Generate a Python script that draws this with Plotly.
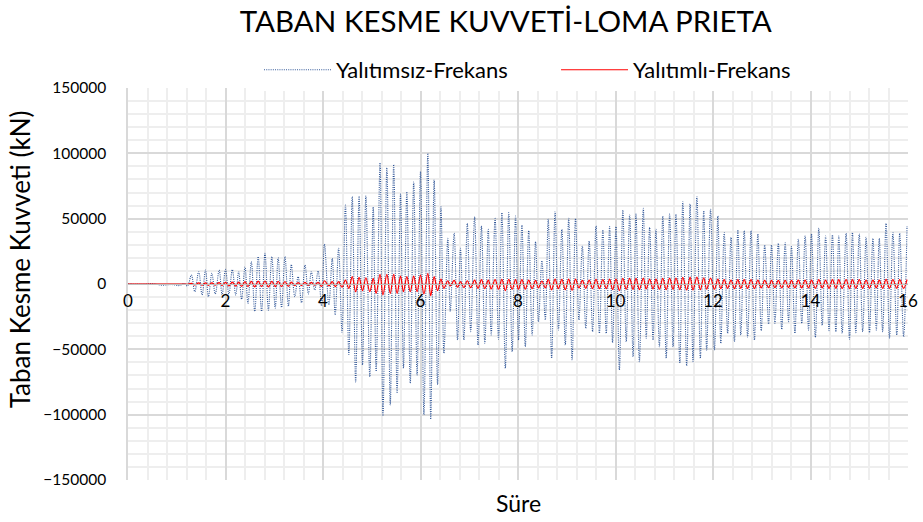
import plotly.graph_objects as go

# peak / trough readings of the two records (time in s, force in kN)
sure = [
    0, 0.3, 0.5, 0.7, 0.9, 1.05, 1.15, 1.22,
    1.30, 1.37, 1.45, 1.52, 1.59, 1.65, 1.72, 1.79, 1.87, 1.93, 2.00,
    2.07, 2.14, 2.21, 2.27, 2.33, 2.40, 2.46, 2.53, 2.60, 2.67, 2.74, 2.81, 2.88, 2.95, 3.02,
    3.08, 3.15, 3.22, 3.29, 3.35, 3.42, 3.49, 3.56, 3.63, 3.70, 3.76, 3.83, 3.90, 3.97,
    4.03, 4.12, 4.19, 4.25, 4.32, 4.39, 4.46, 4.53, 4.60, 4.67, 4.74, 4.81, 4.88, 4.96,
    5.03, 5.09, 5.17, 5.23, 5.31, 5.38, 5.45, 5.52, 5.59, 5.65, 5.72, 5.79, 5.86, 5.93,
    6.00, 6.07, 6.15, 6.21, 6.28, 6.35, 6.42, 6.48, 6.56, 6.61, 6.69, 6.76, 6.82, 6.89, 6.96,
    7.03, 7.11, 7.18, 7.25, 7.32, 7.39, 7.45, 7.53, 7.60, 7.67, 7.74, 7.81, 7.88, 7.95,
    8.01, 8.08, 8.15, 8.22, 8.29, 8.36, 8.42, 8.49, 8.56, 8.62, 8.69, 8.76, 8.83, 8.90, 8.97,
    9.04, 9.11, 9.18, 9.25, 9.32, 9.39, 9.46, 9.53, 9.60, 9.67, 9.74, 9.81, 9.88, 9.94,
    10.01, 10.08, 10.15, 10.22, 10.29, 10.36, 10.42, 10.49, 10.57, 10.63, 10.70, 10.77, 10.83, 10.90, 10.97,
    11.04, 11.11, 11.18, 11.24, 11.32, 11.38, 11.46, 11.53, 11.59, 11.67, 11.74, 11.81, 11.87, 11.95,
    12.03, 12.10, 12.16, 12.23, 12.30, 12.37, 12.44, 12.51, 12.57, 12.64, 12.71, 12.78, 12.85, 12.92, 12.99,
    13.06, 13.14, 13.20, 13.27, 13.34, 13.41, 13.48, 13.55, 13.61, 13.68, 13.75, 13.82, 13.89, 13.96,
    14.02, 14.10, 14.17, 14.24, 14.31, 14.38, 14.45, 14.52, 14.58, 14.65, 14.73, 14.80, 14.86, 14.93, 15.00,
    15.07, 15.14, 15.21, 15.28, 15.35, 15.41, 15.48, 15.55, 15.62, 15.69, 15.77, 15.83, 15.91, 15.98,
]

yalitimsiz = [
    0, -300, 200, -900, -400, -1200, 300, -1500,
    6900, -5900, 9400, -8400, 10700, -9700, 8200, -7600, 10700, -8400, 11200,
    -7600, 11000, -8400, 9400, -11700, 13000, -14800, 17000, -21000, 21000, -21000, 23500, -20000, 21000, -18500,
    20000, -18000, 21000, -17000, 15000, -9700, 5600, -14300, 14500, -7600, 9400, -4600, 10000, -16800,
    30600, -16000, 19600, -23700, 27300, -37000, 60400, -54000, 66800, -75000, 67300, -62000, 67300, -71000,
    59000, -67000, 92800, -101000, 89000, -92500, 91500, -83600, 68800, -64500, 70600, -76000, 78000, -69600,
    86000, -100000, 100000, -103500, 79600, -77000, 59000, -53000, 35000, -21000, 38800, -42800, 27300, -42800, 46400,
    -36500, 51500, -46700, 44400, -45400, 41800, -39000, 50200, -42300, 54600, -64500, 54600, -51800, 52000,
    -42800, 45000, -47900, 40800, -39000, 32400, -28800, 17800, -27500, 49500, -56900, 55300, -35200, 41800, -46700,
    50200, -58000, 50200, -27500, 29000, -33900, 32900, -36500, 44400, -37700, 41300, -37700, 43900, -44900,
    43900, -65800, 56600, -44100, 52800, -55600, 53500, -59400, 57900, -41500, 43300, -42800, 41800, -48000, 52000,
    -56900, 53500, -48000, 53500, -60700, 63000, -62700, 61200, -59400, 66800, -56900, 56100, -50500, 57100,
    -50500, 52000, -45400, 39300, -37700, 35700, -44100, 41300, -39000, 40800, -40800, 40800, -42800, 38300, -35700,
    29800, -30600, 29800, -30100, 31100, -34700, 31600, -28800, 28600, -37700, 34200, -30100, 36700, -35200,
    38300, -40800, 42600, -31600, 36700, -35700, 37500, -36500, 36700, -37700, 38800, -42300, 39300, -37200, 38300,
    -36500, 35700, -37200, 34900, -35200, 34900, -36500, 46400, -41600, 39300, -39000, 38800, -40300, 44400,
]

yalitimli = [
    0, 0, 0, 0, 0, 0, 0, -200,
    500, -700, 800, -900, 900, -1000, 800, -900, 1000, -1100, 1200,
    -1500, 1500, -1600, 1400, -1800, 1800, -2000, 2000, -2200, 2200, -2000, 2300, -2200, 2000, -2000,
    2100, -2000, 1900, -1800, 1500, -1300, 1000, -1200, 1200, -1000, 1200, -900, 1300, -1800,
    2500, -1500, 1800, -2000, 1800, -2500, 3000, -3300, 5600, -5900, 5100, -5100, 4800, -5900,
    4300, -7100, 7400, -8400, 7400, -7100, 7400, -7100, 6100, -5900, 5600, -5900, 6100, -5900,
    6900, -7600, 8200, -8900, 5600, -5100, 3800, -3300, 2500, -1500, 2800, -2500, 1800, -2800, 2500,
    -2800, 3000, -3300, 3300, -3500, 3000, -3800, 3300, -4000, 3500, -5000, 3500, -4000, 3300,
    -4000, 3300, -4000, 3000, -3500, 2800, -3000, 2300, -3000, 3500, -4500, 3800, -3500, 3500, -4300,
    3800, -4800, 3800, -3000, 2800, -3300, 3000, -3500, 3500, -3500, 3300, -3600, 3800, -4300,
    3800, -5000, 4300, -4000, 4300, -4100, 4300, -4300, 4500, -3800, 3800, -3800, 3800, -4000, 4300,
    -4300, 4500, -4100, 4500, -4300, 5000, -4600, 5300, -4600, 5300, -4300, 4800, -4000, 4500,
    -4000, 3800, -3500, 3300, -3300, 3000, -3500, 3300, -3300, 3300, -3300, 3300, -3500, 3000, -3000,
    2800, -2800, 2800, -2800, 2800, -3000, 2800, -2800, 2800, -3000, 3000, -3000, 3000, -3000,
    3000, -3300, 3300, -3000, 3000, -3300, 3300, -3300, 3300, -3300, 3300, -3500, 3300, -3300, 3300,
    -3300, 3000, -3300, 3000, -3000, 3000, -3300, 3500, -3300, 3300, -3300, 3300, -3300, 3300,
]

FONT = 'Lato'

trace1 = go.Scatter(
    x=sure, y=yalitimsiz, name='Yalıtımsız-Frekans', mode='lines',
    line=dict(color='#2F5597', width=1.1, dash='1px,1.2px', shape='spline', smoothing=1),
)
trace2 = go.Scatter(
    x=sure, y=yalitimli, name='Yalıtımlı-Frekans', mode='lines',
    line=dict(color='#FF0000', width=1.2, shape='spline', smoothing=1),
)

layout = go.Layout(
    width=923, height=522,
    margin=dict(l=128, r=15, t=88, b=42),
    paper_bgcolor='white', plot_bgcolor='white',
    font=dict(family=FONT, size=15, color='black'),
    title=dict(text='TABAN KESME KUVVETİ-LOMA PRIETA', x=0.548, xanchor='center',
               y=0.958, yanchor='middle', font=dict(size=29.5, family=FONT)),
    showlegend=True,
    legend=dict(orientation='h', x=0.168, xanchor='left', y=1.046, yanchor='middle',
                font=dict(size=22), itemwidth=67, traceorder='normal', entrywidth=215),
    xaxis=dict(
        range=[0, 16], dtick=2, tick0=0,
        anchor='free', position=0.5, automargin=False,
        showline=True, linecolor='#BFBFBF', linewidth=1,
        showgrid=True, gridcolor='#D9D9D9', gridwidth=1.5,
        minor=dict(dtick=0.4, showgrid=True, gridcolor='#EEEEEE', gridwidth=1.5),
        zeroline=False, ticks='', ticklabelstandoff=2,
        tickfont=dict(size=17),
    ),
    yaxis=dict(
        range=[-150000, 150000], dtick=50000, tick0=0, automargin=False,
        showgrid=True, gridcolor='#D9D9D9', gridwidth=1.5,
        minor=dict(dtick=10000, showgrid=True, gridcolor='#EEEEEE', gridwidth=1.5),
        zeroline=False, ticks='', ticklabelstandoff=17,
        showline=True, linecolor='#D9D9D9', linewidth=1.5,
        tickformat='d',
        tickfont=dict(size=15.5),
    ),
    annotations=[
        dict(text='Süre', x=0.5, xref='paper', y=-0.059, yref='paper',
             xanchor='center', yanchor='middle', showarrow=False, font=dict(size=23)),
        dict(text='Taban Kesme Kuvveti (kN)', x=-0.138, xref='paper', y=0.564, yref='paper',
             xanchor='center', yanchor='middle', textangle=-90, showarrow=False,
             font=dict(size=26)),
    ],
)

fig = go.Figure(data=[trace1, trace2], layout=layout)
fig.write_html("out.html", config={'displayModeBar': False},
               post_script="document.body.style.margin='0';")
